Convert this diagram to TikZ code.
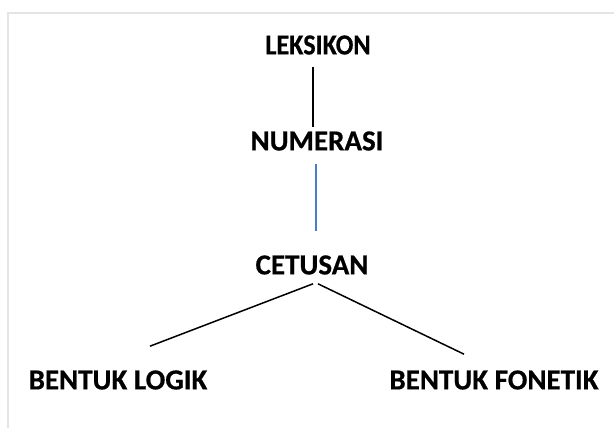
\documentclass[tikz,border=0pt]{standalone}
\usepackage{fontspec}
\setmainfont{Carlito}[BoldFeatures={FakeBold=0.6}]
\usepackage{tikz}
\usetikzlibrary{calc,positioning}

\definecolor{framegray}{RGB}{228,228,228}
\definecolor{linkblue}{RGB}{74,126,196}

\tikzset{
  term/.style={inner sep=0pt, font=\bfseries\fontsize{29}{32}\selectfont},
  link/.style={line width=1.5pt, black},
  bluelink/.style={line width=1.6pt, linkblue}
}

\begin{document}
\begin{tikzpicture}[x=1pt,y=1pt]
    \useasboundingbox (0,0) rectangle (614,428);
    \draw[framegray, line width=1.5pt] (8,0) -- (8,415) -- (614,415);

    \node[term, xscale=0.9] (leksikon) at (318,383) {LEKSIKON};
    \node[term] (numerasi) at (317,287) {NUMERASI};
    \node[term] (cetusan) at (312,163) {CETUSAN};
    \node[term] (logik) at (118,48) {BENTUK LOGIK};
    \node[term] (fonetik) at (494,48) {BENTUK FONETIK};

    \draw[link] ([shift={(-5pt,-12pt)}]leksikon.south) -- ([shift={(-4pt,4pt)}]numerasi.north);
    \draw[bluelink] ([shift={(-1pt,-13pt)}]numerasi.south) -- ([shift={(4pt,24pt)}]cetusan.north);
    \draw[link] ([shift={(1pt,-9pt)}]cetusan.south) -- ([shift={(32pt,24pt)}]logik.north);
    \draw[link] ([shift={(6pt,-9pt)}]cetusan.south) -- ([shift={(-30pt,16pt)}]fonetik.north);
  \end{tikzpicture}
\end{document}
